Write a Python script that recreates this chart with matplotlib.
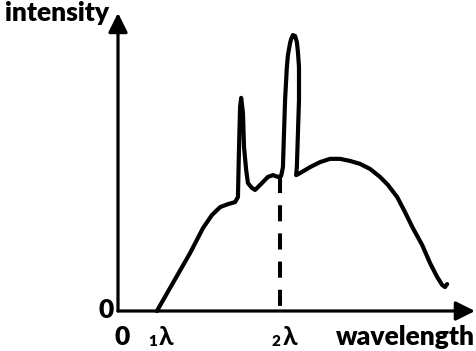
import matplotlib
matplotlib.use("Agg")
import matplotlib.pyplot as plt

# ---- data (arbitrary units) ----
wavelength = [10.9, 15.4, 20.2, 23.8, 26.3, 28.6, 30.8, 32.8, 33.6, 33.9,
              34.2, 34.5, 35.0, 35.3, 35.9, 36.4, 37.5, 38.4, 40.3, 42.0,
              43.4, 44.8, 45.7, 46.2, 46.5, 46.8, 47.3, 47.6, 48.2, 48.5,
              49.0, 49.6, 50.1, 50.4, 50.7, 50.7, 50.4, 50.1, 49.9, 51.0,
              53.8, 56.6, 59.4, 62.2, 65.0, 67.8, 70.6, 73.4, 75.6, 78.2,
              80.4, 82.6, 85.2, 87.4, 89.4, 90.8, 91.6, 92.2]
intensity = [0.0, 9.5, 19.6, 28.0, 32.4, 35.1, 36.1, 36.8, 38.5, 55.4,
             68.9, 72.0, 66.9, 55.4, 47.6, 43.2, 41.6, 40.9, 43.2, 45.3,
             45.9, 45.3, 45.6, 48.6, 60.1, 71.3, 82.4, 86.5, 90.5, 91.9,
             93.2, 92.9, 90.9, 87.5, 82.4, 71.3, 60.1, 48.6, 45.9, 46.6,
             48.6, 50.3, 51.4, 51.4, 50.7, 49.7, 48.0, 45.3, 42.6, 38.5,
             33.4, 28.0, 22.3, 16.2, 11.5, 8.8, 8.1, 9.1]
lambda1 = 10.9
lambda2 = 45.4
lambda2_level = 45.3
x_label = "wavelength"
y_label = "intensity"

W, H = 477, 351
fig = plt.figure(figsize=(W / 100, H / 100), dpi=100)
ax = fig.add_axes([118 / W, 40 / H, 357 / W, 296 / H])
ax.set_xlim(0, 100)
ax.set_ylim(0, 100)
ax.axis("off")

FONT = ["Lato", "DejaVu Sans"]
FS = 19
WT = "heavy"

# curve
ax.plot(wavelength, intensity, color="black", lw=3.0,
        solid_joinstyle="round", solid_capstyle="round", clip_on=False)

# dashed line at lambda2
ax.plot([lambda2, lambda2], [lambda2_level, 0], color="black", lw=2.9,
        linestyle=(0, (4.0, 3.0)), clip_on=False)

# axes with arrows
arrow = dict(arrowstyle="-|>,head_length=0.58,head_width=0.29",
             lw=2.3, color="black", mutation_scale=20,
             shrinkA=0, shrinkB=0)
ax.annotate("", xy=(1, 0), xytext=(0, 0), xycoords="axes fraction",
            arrowprops=arrow, annotation_clip=False)
ax.annotate("", xy=(0, 1.007), xytext=(0, 0), xycoords="axes fraction",
            arrowprops=arrow, annotation_clip=False)

# labels
fig.text(5 / W, 1 - 20.7 / H, y_label, ha="left", va="baseline",
         fontsize=FS, fontweight=WT, family=FONT)
fig.text(475 / W, 1 - 345 / H, x_label, ha="right", va="baseline",
         fontsize=FS, fontweight=WT, family=FONT)
fig.text(122 / W, 1 - 345 / H, "0", ha="center", va="baseline",
         fontsize=FS, fontweight=WT, family=FONT)
fig.text(106 / W, 1 - 318 / H, "0", ha="center", va="baseline",
         fontsize=FS, fontweight=WT, family=FONT)

for lam, sub in [(lambda1, "1"), (lambda2, "2")]:
    ax.annotate("λ", xy=(lam, 0), xycoords=("data", "axes fraction"),
                xytext=(9.5, -34), textcoords="offset pixels",
                ha="center", va="baseline", fontsize=FS, fontweight="bold",
                family=FONT, annotation_clip=False)
    ax.annotate(sub, xy=(lam, 0), xycoords=("data", "axes fraction"),
                xytext=(-4.5, -35), textcoords="offset pixels",
                ha="center", va="baseline", fontsize=11, fontweight=WT,
                family=FONT, annotation_clip=False)

fig.savefig("out.png", dpi=100)
